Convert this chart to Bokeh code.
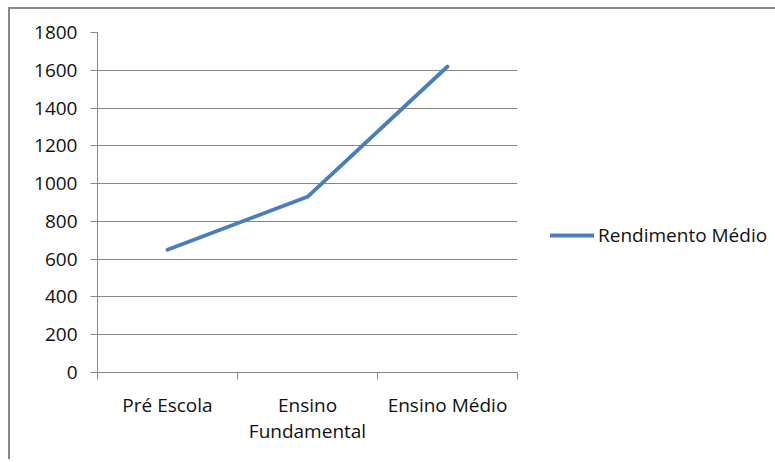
from bokeh.plotting import figure
from bokeh.models import FixedTicker, Range1d, Legend, LegendItem, ColumnDataSource
from bokeh.embed import file_html
from bokeh.resources import INLINE

categories = ["Pré Escola", "Ensino\nFundamental", "Ensino Médio"]
values = [650, 930, 1620]
y_ticks = [0, 200, 400, 600, 800, 1000, 1200, 1400, 1600, 1800]
series_name = "Rendimento Médio"

FONT = "Open Sans"
GRID = "#868686"
FS = "19px"

xpos = [i + 0.5 for i in range(len(categories))]
src = ColumnDataSource(dict(x=xpos, y=values))

p = figure(frame_width=420, frame_height=340, output_backend="svg", toolbar_location=None,
           x_range=Range1d(0, len(categories)), y_range=Range1d(0, 1800),
           min_border_left=87, min_border_top=23, min_border_right=248, min_border_bottom=89,
           margin=(9, 0, 0, 10),
           styles={"box-shadow": "-2px -2px 0 0 #868686"})
p.outline_line_color = None
p.background_fill_color = "white"
p.border_fill_color = "white"

r = p.line("x", "y", source=src, line_color="#4A7EBB", line_width=3.8, line_cap="round", line_join="round")

# x axis
p.xaxis.ticker = FixedTicker(ticks=xpos, minor_ticks=list(range(len(categories) + 1)))
p.xaxis.major_label_overrides = {x: c for x, c in zip(xpos, categories)}
p.xaxis.major_tick_out = 0
p.xaxis.major_tick_in = 0
p.xaxis.minor_tick_out = 7
p.xaxis.minor_tick_in = 0
p.xaxis.minor_tick_line_color = GRID
p.xaxis.axis_line_color = GRID
p.xaxis.major_label_standoff = 12
p.xaxis.major_label_text_line_height = 1.02

# y axis
p.yaxis.ticker = FixedTicker(ticks=y_ticks)
p.yaxis.major_tick_out = 7
p.yaxis.major_tick_in = 0
p.yaxis.minor_tick_line_color = None
p.yaxis.major_tick_line_color = GRID
p.yaxis.axis_line_color = GRID
p.yaxis.major_label_standoff = 13

for ax in (p.xaxis[0], p.yaxis[0]):
    ax.major_label_text_font = FONT
    ax.major_label_text_font_size = FS
    ax.major_label_text_color = "#111111"

p.xgrid.grid_line_color = None
p.ygrid.grid_line_color = GRID
p.ygrid.grid_line_width = 1
p.ygrid.ticker = FixedTicker(ticks=y_ticks)

legend = Legend(items=[LegendItem(label=series_name, renderers=[r])],
                location=(33, 124), orientation="vertical",
                glyph_width=44, glyph_height=20, label_standoff=4,
                padding=0, margin=0, spacing=0,
                border_line_color=None, background_fill_alpha=0,
                label_text_font=FONT, label_text_font_size=FS,
                label_text_color="#111111")
p.add_layout(legend, "right")

open("out.html", "w").write(file_html(p, INLINE))
